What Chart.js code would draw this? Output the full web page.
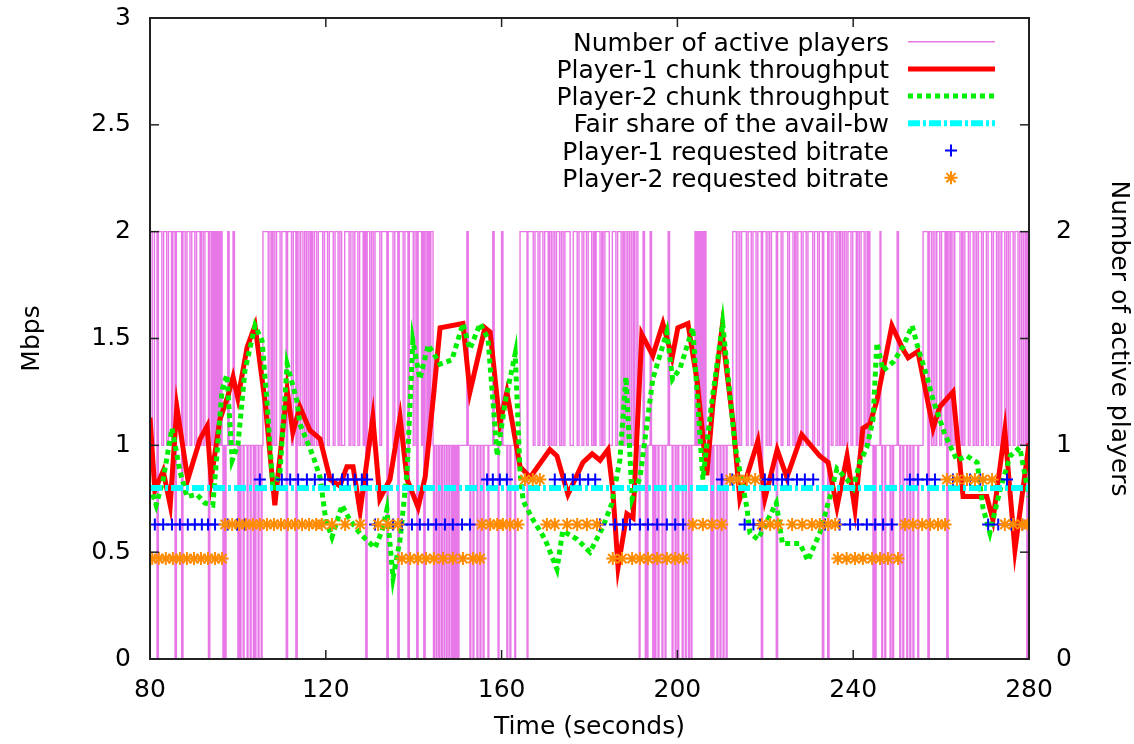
<!DOCTYPE html>
<html>
<head>
<meta charset="utf-8">
<title>Active players and throughput</title>
<script src="https://cdn.jsdelivr.net/npm/chart.js"></script>
<style>
  body { margin: 0; background: #fff; }
  canvas { display: block; }
</style>
</head>
<body>
<canvas id="chart" width="1134" height="744"></canvas>
<script>
// ---- data ----
// time in seconds, throughput / bitrate in Mbps

// number of active players: base level per stretch of time ...
const activeBase = [
  [80, 2], [96.4, 1], [105.7, 2], [144.4, 1], [164.2, 2],
  [191.0, 1], [212.6, 2], [243.8, 1], [255.9, 2]
];
// ... and the short excursions away from it: [from, to, players]
const activeDips = [
  [80.5, 81.0, 1], [81.6, 81.9, 0], [82.7, 83.1, 1], [83.8, 84.2, 1], [84.9, 85.2, 1], [85.7, 86.0, 0],
  [87.2, 87.5, 0], [88.0, 88.4, 1], [89.1, 89.5, 1], [90.2, 90.6, 1], [91.4, 91.7, 1], [92.1, 92.5, 1],
  [93.3, 93.6, 0], [94.0, 94.2, 1], [94.4, 94.6, 1], [94.8, 95.0, 1], [95.2, 95.4, 1], [95.6, 95.8, 1],
  [95.9, 96.1, 1],
  [96.6, 96.8, 0], [97.1, 97.3, 0], [97.7, 98.0, 2], [98.9, 99.2, 2], [100.0, 100.2, 0], [100.5, 100.7, 0],
  [101.2, 101.4, 0], [102.1, 102.3, 0], [102.8, 103.0, 0], [103.5, 103.6, 0], [103.9, 104.1, 0],
  [104.6, 104.8, 0], [105.3, 105.5, 0],
  [106.9, 107.3, 1], [107.7, 108.0, 1], [108.4, 108.8, 1], [109.6, 110.0, 1], [111.0, 111.3, 0],
  [112.2, 112.6, 1], [113.2, 113.5, 0], [113.9, 114.3, 1], [114.8, 115.2, 1], [115.6, 116.0, 1],
  [116.4, 116.7, 1], [117.0, 117.4, 1], [117.9, 118.3, 1], [119.3, 119.7, 1], [120.4, 120.8, 1],
  [121.7, 122.1, 1], [122.8, 123.2, 1], [123.6, 124.3, 1], [125.3, 125.7, 1], [126.2, 126.6, 1],
  [127.3, 127.7, 1], [128.5, 128.8, 1], [129.1, 129.4, 0], [130.0, 130.4, 1], [130.8, 131.2, 1],
  [132.3, 132.7, 1], [133.9, 134.2, 0], [135.3, 135.7, 1], [136.4, 136.7, 0], [137.6, 138.0, 1],
  [138.7, 139.0, 0], [139.9, 140.3, 1], [140.7, 141.0, 0], [141.8, 142.0, 1], [142.3, 142.6, 0],
  [143.0, 143.3, 1], [143.6, 143.9, 1],
  [144.5, 144.7, 0], [145.1, 145.3, 0], [145.7, 145.9, 0], [146.3, 146.5, 0], [146.9, 147.0, 0],
  [147.4, 147.6, 0], [148.0, 148.2, 0], [148.6, 148.8, 0], [148.9, 149.1, 0], [149.2, 149.4, 0],
  [149.5, 149.7, 0], [149.8, 150.0, 0], [150.1, 150.3, 0], [152.1, 152.4, 2], [152.8, 153.0, 0],
  [153.5, 153.7, 0], [154.4, 154.6, 0], [155.1, 155.3, 0], [155.8, 156.0, 0], [156.9, 157.1, 0],
  [158.0, 158.3, 2], [159.2, 159.4, 0], [160.0, 160.3, 2], [161.2, 161.4, 0], [161.9, 162.1, 0],
  [163.0, 163.2, 0],
  [165.8, 166.0, 0], [167.2, 167.6, 1], [168.3, 168.7, 1], [169.4, 169.8, 1], [170.6, 170.9, 1],
  [171.3, 171.7, 1], [172.1, 172.5, 1], [173.2, 173.6, 1], [174.0, 174.4, 1], [175.6, 176.3, 1],
  [177.2, 177.6, 1], [178.3, 178.7, 1], [179.3, 179.7, 1], [180.5, 180.9, 1], [181.2, 181.5, 1],
  [182.4, 182.8, 1], [183.1, 183.5, 1], [184.5, 185.2, 1], [186.0, 186.4, 1], [187.2, 187.6, 1],
  [187.9, 188.3, 1], [188.7, 189.1, 1], [189.5, 189.9, 1], [190.2, 190.6, 1],
  [191.3, 191.5, 0], [192.2, 192.5, 2], [192.7, 192.9, 0], [193.1, 193.3, 0], [193.8, 194.1, 2],
  [194.4, 194.6, 0], [194.9, 195.1, 0], [195.6, 195.8, 0], [196.5, 196.7, 0], [197.2, 197.4, 0],
  [197.9, 198.2, 2], [198.8, 199.0, 0], [199.5, 199.7, 0], [200.1, 200.3, 0], [201.1, 201.3, 0],
  [201.8, 202.0, 0], [202.5, 202.7, 0], [203.1, 203.3, 0], [204.0, 204.2, 2], [204.4, 204.6, 2],
  [204.8, 205.0, 2], [205.3, 205.5, 2], [205.7, 205.9, 2], [206.2, 206.5, 2], [207.6, 207.8, 0],
  [208.1, 208.3, 0], [209.0, 209.2, 0], [209.7, 209.9, 0], [210.4, 210.6, 0], [211.1, 211.3, 0],
  [213.4, 213.8, 1], [214.2, 214.6, 1], [215.7, 216.1, 1], [216.8, 217.2, 1], [217.9, 218.3, 1],
  [219.1, 219.4, 0], [220.2, 220.6, 1], [221.0, 221.4, 1], [222.5, 222.8, 0], [223.6, 224.0, 1],
  [225.1, 225.5, 1], [226.3, 226.7, 1], [227.0, 227.4, 1], [228.2, 228.6, 1], [229.3, 229.7, 1],
  [230.8, 231.2, 1], [231.9, 232.3, 1], [233.0, 233.3, 0], [234.2, 234.5, 0], [235.0, 235.4, 1],
  [236.1, 236.5, 1], [236.9, 237.2, 1], [237.6, 238.0, 1], [238.4, 238.8, 1], [239.5, 239.9, 1],
  [240.7, 241.0, 1], [241.4, 241.8, 1], [242.5, 242.9, 1], [243.3, 243.6, 1],
  [244.5, 244.7, 0], [245.0, 245.2, 0], [246.1, 246.3, 2], [246.5, 246.7, 0], [247.2, 247.4, 0],
  [248.4, 248.6, 0], [249.0, 249.2, 0], [250.0, 250.3, 2], [250.6, 250.8, 0], [251.3, 251.5, 0],
  [252.2, 252.4, 0], [252.9, 253.1, 0], [253.6, 253.8, 0], [254.7, 254.9, 0],
  [257.0, 257.3, 0], [257.8, 258.2, 1], [258.6, 259.0, 1], [259.7, 260.1, 1], [260.9, 261.1, 1],
  [261.3, 261.6, 0], [262.0, 262.3, 1], [262.7, 263.1, 1], [264.3, 264.7, 1], [265.0, 265.4, 1],
  [266.2, 266.6, 1], [267.3, 267.7, 1], [268.1, 268.5, 1], [269.2, 269.6, 1], [270.3, 270.7, 1],
  [271.5, 271.9, 1], [272.6, 273.0, 1], [273.4, 273.8, 1], [274.5, 274.9, 1], [275.3, 275.7, 1],
  [276.4, 276.8, 1], [277.5, 277.9, 1], [278.3, 278.7, 1], [279.1, 279.3, 1], [279.5, 279.7, 0]
];

const p1Throughput = [
  [80.0, 1.13], [81.1, 0.79], [83.0, 0.88], [84.6, 0.72], [86.1, 1.18], [88.6, 0.84], [91.4, 1.03],
  [93.0, 1.09], [93.9, 0.84], [95.9, 1.12], [97.7, 1.23], [98.9, 1.32], [100.0, 1.22], [102.1, 1.46],
  [103.9, 1.56], [106.2, 1.20], [108.4, 0.72], [111.2, 1.26], [112.5, 1.06], [114.1, 1.18], [116.4, 1.07],
  [118.7, 1.03], [121.0, 0.84], [123.2, 0.81], [124.8, 0.90], [126.2, 0.90], [127.8, 0.69], [130.7, 1.13],
  [132.3, 0.75], [134.6, 0.84], [136.9, 1.13], [138.5, 0.84], [141.0, 0.71], [142.6, 0.85], [144.4, 1.21],
  [146.0, 1.55], [151.2, 1.57], [152.8, 1.25], [156.2, 1.55], [157.4, 1.53], [159.6, 1.10], [161.2, 1.25],
  [164.2, 0.90], [166.5, 0.85], [171.0, 0.98], [172.6, 0.95], [175.1, 0.77], [178.5, 0.92], [180.6, 0.96],
  [182.4, 0.93], [184.2, 0.98], [185.3, 0.79], [186.5, 0.43], [188.5, 0.68], [189.9, 0.66], [191.9, 1.52],
  [194.4, 1.42], [196.7, 1.57], [198.8, 1.41], [200.1, 1.55], [202.4, 1.57], [204.5, 1.30], [206.7, 0.86],
  [208.1, 1.20], [210.1, 1.54], [212.7, 1.10], [214.2, 0.75], [218.3, 1.02], [219.9, 0.75], [222.7, 0.98],
  [224.9, 0.85], [228.3, 1.05], [232.4, 0.95], [234.3, 0.92], [236.3, 0.71], [238.6, 0.95], [240.4, 0.70],
  [242.2, 1.08], [243.8, 1.10], [245.4, 1.21], [248.8, 1.56], [251.3, 1.45], [252.5, 1.41], [254.7, 1.44],
  [257.5, 1.15], [258.2, 1.08], [259.7, 1.18], [262.7, 1.25], [265.0, 0.76], [270.4, 0.76], [271.8, 0.65],
  [274.5, 1.07], [276.8, 0.51], [280.0, 1.01]
];

const p2Throughput = [
  [80.0, 0.81], [81.4, 0.72], [83.0, 0.84], [85.0, 1.08], [86.8, 0.88], [88.4, 0.76], [90.7, 0.77],
  [92.5, 0.73], [94.3, 0.72], [96.4, 1.26], [97.5, 1.33], [98.7, 0.93], [100.0, 1.00], [101.6, 1.35],
  [103.9, 1.56], [105.5, 1.49], [106.6, 1.21], [108.0, 0.79], [109.6, 0.88], [111.2, 1.38], [113.4, 1.21],
  [114.1, 1.10], [117.1, 0.95], [118.7, 0.85], [120.0, 0.65], [121.4, 0.57], [123.7, 0.72], [125.5, 0.65],
  [127.3, 0.60], [129.1, 0.56], [131.2, 0.52], [132.8, 0.60], [133.9, 0.70], [135.3, 0.38], [136.9, 0.56],
  [138.5, 0.88], [139.8, 1.49], [141.4, 1.31], [143.3, 1.47], [146.0, 1.38], [148.7, 1.40], [151.2, 1.57],
  [152.8, 1.45], [155.1, 1.57], [156.9, 1.50], [159.0, 0.95], [160.8, 1.20], [163.1, 1.43], [164.2, 0.87],
  [164.9, 0.74], [167.2, 0.65], [169.9, 0.56], [172.6, 0.42], [173.9, 0.60], [177.2, 0.56], [180.1, 0.50],
  [183.1, 0.62], [185.1, 0.73], [186.9, 0.93], [188.3, 1.32], [189.7, 0.75], [191.5, 0.85], [194.4, 1.31],
  [197.6, 1.53], [198.9, 1.31], [200.6, 1.36], [203.5, 1.55], [205.8, 0.84], [207.8, 1.20], [210.3, 1.57],
  [213.1, 1.00], [215.8, 0.71], [216.5, 0.59], [218.3, 0.56], [222.5, 0.73], [223.9, 0.54], [227.9, 0.54],
  [229.7, 0.46], [232.4, 0.59], [234.7, 0.76], [236.3, 0.89], [238.6, 0.84], [240.0, 0.80], [241.5, 0.92],
  [243.1, 0.99], [244.5, 1.12], [245.4, 1.48], [246.8, 1.35], [249.1, 1.39], [251.3, 1.46], [253.4, 1.56],
  [254.7, 1.46], [256.8, 1.32], [258.2, 1.21], [260.9, 1.05], [263.6, 0.93], [265.9, 0.95], [268.2, 0.92],
  [269.5, 0.71], [271.1, 0.59], [273.4, 0.79], [275.7, 0.95], [277.9, 0.99], [280.0, 0.76]
];

const fairShare = [[80, 0.8], [280, 0.8]];

const p1Requested = [
  [81.1, 0.63], [83.0, 0.63], [85.0, 0.63], [86.8, 0.63], [88.6, 0.63], [90.2, 0.63], [91.8, 0.63],
  [93.2, 0.63], [94.8, 0.63], [97.7, 0.63], [99.8, 0.63], [101.6, 0.63],
  [105.0, 0.84], [110.0, 0.84], [111.9, 0.84], [113.7, 0.84], [115.7, 0.84], [117.5, 0.84], [119.8, 0.84],
  [121.6, 0.84], [123.7, 0.84], [125.0, 0.84], [126.6, 0.84], [128.2, 0.84], [129.4, 0.84],
  [131.2, 0.63], [135.3, 0.63], [137.3, 0.63], [139.6, 0.63], [141.4, 0.63], [143.3, 0.63], [145.1, 0.63],
  [147.1, 0.63], [148.9, 0.63], [151.0, 0.63], [152.8, 0.63],
  [156.7, 0.84], [158.0, 0.84], [159.6, 0.84], [161.2, 0.84], [172.1, 0.84], [174.4, 0.84], [176.2, 0.84],
  [177.8, 0.84], [179.7, 0.84], [181.3, 0.84],
  [182.4, 0.63], [185.8, 0.63], [187.6, 0.63], [189.2, 0.63], [191.5, 0.63], [193.3, 0.63], [195.4, 0.63],
  [197.6, 0.63], [199.5, 0.63], [201.3, 0.63],
  [210.1, 0.84], [212.5, 0.84], [215.3, 0.63], [217.3, 0.63], [218.8, 0.63],
  [219.9, 0.84], [221.8, 0.84], [223.8, 0.84], [225.2, 0.84], [227.2, 0.84], [229.0, 0.84], [230.9, 0.84],
  [233.6, 0.63], [236.9, 0.63], [239.3, 0.63], [241.1, 0.63], [243.1, 0.63], [245.0, 0.63], [246.8, 0.63],
  [248.8, 0.63],
  [252.9, 0.84], [254.7, 0.84], [256.8, 0.84], [258.6, 0.84], [262.7, 0.84], [266.6, 0.84], [268.9, 0.84],
  [275.0, 0.84],
  [270.7, 0.63], [273.0, 0.63], [276.0, 0.63], [278.5, 0.63]
];

const p2Requested = [
  [80.5, 0.47], [82.0, 0.47], [83.6, 0.47], [85.2, 0.47], [86.8, 0.47], [88.4, 0.47], [90.0, 0.47],
  [91.6, 0.47], [93.2, 0.47], [94.8, 0.47], [96.4, 0.47],
  [97.1, 0.63], [98.7, 0.63], [100.3, 0.63], [101.8, 0.63], [103.4, 0.63], [105.0, 0.63], [106.6, 0.63],
  [108.2, 0.63], [109.8, 0.63], [111.4, 0.63], [113.0, 0.63], [114.6, 0.63], [116.2, 0.63], [117.8, 0.63],
  [119.1, 0.63], [121.4, 0.63], [124.4, 0.63], [127.8, 0.63], [131.9, 0.63], [134.2, 0.63], [136.4, 0.63],
  [137.3, 0.47], [139.2, 0.47], [141.0, 0.47], [142.8, 0.47], [144.6, 0.47], [146.7, 0.47], [148.9, 0.47],
  [151.2, 0.47], [153.5, 0.47], [155.1, 0.47],
  [155.5, 0.63], [157.4, 0.63], [159.0, 0.63], [160.3, 0.63], [161.9, 0.63], [163.7, 0.63],
  [165.3, 0.84], [167.1, 0.84], [168.7, 0.84],
  [170.3, 0.63], [172.1, 0.63], [174.9, 0.63], [177.2, 0.63], [179.4, 0.63], [181.7, 0.63],
  [185.3, 0.47], [187.4, 0.47], [189.7, 0.47], [191.5, 0.47], [193.3, 0.47], [195.4, 0.47], [197.6, 0.47],
  [199.5, 0.47], [201.3, 0.47],
  [203.5, 0.63], [205.8, 0.63], [207.9, 0.63], [210.1, 0.63],
  [212.0, 0.84], [213.7, 0.84], [215.8, 0.84], [217.7, 0.84],
  [219.2, 0.63], [221.1, 0.63], [222.9, 0.63], [226.1, 0.63], [228.4, 0.63], [230.6, 0.63], [232.4, 0.63],
  [234.3, 0.63], [235.9, 0.63],
  [236.5, 0.47], [238.5, 0.47], [240.4, 0.47], [242.2, 0.47], [244.3, 0.47], [246.1, 0.47], [247.9, 0.47],
  [250.2, 0.47],
  [251.8, 0.63], [253.6, 0.63], [255.7, 0.63], [257.5, 0.63], [259.3, 0.63], [260.9, 0.63],
  [261.3, 0.84], [263.6, 0.84], [265.9, 0.84], [267.7, 0.84], [269.5, 0.84], [271.6, 0.84],
  [274.5, 0.63], [276.4, 0.63], [278.4, 0.63], [279.8, 0.63]
];

const xTicks = [80, 120, 160, 200, 240, 280];
const legendLabels = [
  'Number of active players',
  'Player-1 chunk throughput',
  'Player-2 chunk throughput',
  'Fair share of the avail-bw',
  'Player-1 requested bitrate',
  'Player-2 requested bitrate'
];

// ---- helpers ----
const toXY = (pairs) => pairs.map(([x, y]) => ({ x, y }));

// step series for the active players: base level with its excursions
function activeSteps() {
  const steps = [];
  activeBase.forEach(([t0, level], i) => {
    const t1 = i + 1 < activeBase.length ? activeBase[i + 1][0] : xTicks[xTicks.length - 1];
    steps.push({ x: t0, y: level });
    activeDips
      .filter(([a]) => a >= t0 && a < t1)
      .forEach(([a, b, n]) => {
        steps.push({ x: a, y: n }, { x: b, y: level });
      });
  });
  steps.push({ x: xTicks[xTicks.length - 1], y: activeBase[activeBase.length - 1][1] });
  return steps;
}

const FONT = '"DejaVu Sans", sans-serif';
const FONT_SIZE = 25;

// frame with gnuplot style inward ticks
const frameTicks = {
  id: 'frameTicks',
  afterDatasetsDraw(chart) {
    const { ctx, chartArea: a, scales } = chart;
    const len = 9;
    ctx.save();
    ctx.strokeStyle = '#222';
    ctx.lineWidth = 1.5;
    const seg = (x1, y1, x2, y2) => {
      ctx.beginPath(); ctx.moveTo(x1, y1); ctx.lineTo(x2, y2); ctx.stroke();
    };
    scales.y.ticks.forEach((t) => {
      const py = scales.y.getPixelForValue(t.value);
      seg(a.left, py, a.left + len, py);
      seg(a.right, py, a.right - len, py);
    });
    scales.x.ticks.forEach((t) => {
      const px = scales.x.getPixelForValue(t.value);
      seg(px, a.bottom, px, a.bottom - len);
      seg(px, a.top, px, a.top + len);
    });
    ctx.lineWidth = 2;
    ctx.strokeRect(a.left, a.top, a.right - a.left, a.bottom - a.top);
    ctx.restore();
  }
};

// key in the top right corner: text right aligned, sample to its right
const keyBox = {
  id: 'keyBox',
  afterDraw(chart) {
    const { ctx } = chart;
    const textRight = 889;
    const sampleL = 908;
    const sampleR = 995;
    const firstRow = 41.7;
    const rowGap = 27.2;
    ctx.save();
    ctx.font = FONT_SIZE + 'px ' + FONT;
    ctx.fillStyle = '#000';
    ctx.textAlign = 'right';
    ctx.textBaseline = 'alphabetic';
    chart.data.datasets.forEach((ds, i) => {
      const y = firstRow + i * rowGap;
      ctx.fillText(legendLabels[i], textRight, y + 9);
      ctx.strokeStyle = ds.borderColor;
      ctx.lineWidth = ds.borderWidth;
      if (ds.showLine !== false) {
        ctx.setLineDash(ds.borderDash || []);
        ctx.beginPath(); ctx.moveTo(sampleL, y); ctx.lineTo(sampleR, y); ctx.stroke();
        ctx.setLineDash([]);
      } else {
        const cx = 951;
        const r = ds.pointRadius;
        ctx.lineWidth = ds.pointBorderWidth;
        ctx.beginPath();
        ctx.moveTo(cx - r, y); ctx.lineTo(cx + r, y);
        ctx.moveTo(cx, y - r); ctx.lineTo(cx, y + r);
        if (ds.pointStyle === 'star') {
          const d = r * Math.SQRT1_2;
          ctx.moveTo(cx - d, y - d); ctx.lineTo(cx + d, y + d);
          ctx.moveTo(cx - d, y + d); ctx.lineTo(cx + d, y - d);
        }
        ctx.stroke();
      }
    });
    ctx.restore();
  }
};

const tickFont = { family: FONT, size: FONT_SIZE };
// the axes sizes are fixed so the plot box sits where it does in the picture
const fixSize = (w, h) => (s) => {
  if (w) s.width = w;
  if (h) s.height = h;
  s.paddingTop = 0;
  s.paddingBottom = 0;
  s.paddingLeft = 0;
  s.paddingRight = 0;
};

new Chart(document.getElementById('chart'), {
  type: 'scatter',
  data: {
    datasets: [
      {
        type: 'line', data: activeSteps(), yAxisID: 'y2', stepped: true,
        borderColor: '#e878e8', borderWidth: 1.4, pointRadius: 0, order: 6
      },
      {
        type: 'line', data: toXY(p1Throughput), yAxisID: 'y',
        borderColor: '#ff0000', borderWidth: 5, pointRadius: 0, tension: 0, order: 5
      },
      {
        type: 'line', data: toXY(p2Throughput), yAxisID: 'y',
        borderColor: '#00ee00', borderWidth: 5, borderDash: [5, 4], pointRadius: 0, tension: 0, order: 4
      },
      {
        type: 'line', data: toXY(fairShare), yAxisID: 'y',
        borderColor: '#00ffff', borderWidth: 6, borderDash: [12, 3, 3, 3], pointRadius: 0, order: 3
      },
      {
        data: toXY(p1Requested), yAxisID: 'y', showLine: false,
        pointStyle: 'cross', pointRadius: 6, pointBorderWidth: 2,
        borderColor: '#0000ff', pointBorderColor: '#0000ff', order: 2
      },
      {
        data: toXY(p2Requested), yAxisID: 'y', showLine: false,
        pointStyle: 'star', pointRadius: 6.5, pointBorderWidth: 2,
        borderColor: '#ff8c00', pointBorderColor: '#ff8c00', order: 1
      }
    ]
  },
  options: {
    responsive: false,
    animation: false,
    devicePixelRatio: 1,
    layout: { padding: { top: 18, left: 0, right: 0, bottom: 0 } },
    plugins: { legend: { display: false }, tooltip: { enabled: false } },
    scales: {
      x: {
        type: 'linear', min: 80, max: 280,
        afterBuildTicks: (s) => { s.ticks = xTicks.map((v) => ({ value: v })); },
        ticks: { font: tickFont, color: '#000', padding: 16, callback: (v) => String(v), maxRotation: 0 },
        grid: { display: false, drawTicks: false },
        border: { display: false },
        title: { display: true, text: 'Time (seconds)', font: tickFont, color: '#000', padding: { top: 0, bottom: 2 } },
        afterFit: fixSize(0, 85)
      },
      y: {
        position: 'left', min: 0, max: 3,
        ticks: { stepSize: 0.5, font: tickFont, color: '#000', padding: 19, callback: (v) => String(v) },
        grid: { display: false, drawTicks: false },
        border: { display: false },
        title: { display: true, text: 'Mbps', font: tickFont, color: '#000', padding: { top: 17, bottom: 0 } },
        afterFit: fixSize(150, 0)
      },
      y2: {
        position: 'right', min: 0, max: 3,
        ticks: { stepSize: 1, font: tickFont, color: '#000', padding: 27, callback: (v) => (v < 3 ? String(v) : '') },
        grid: { display: false, drawTicks: false },
        border: { display: false },
        title: { display: true, text: 'Number of active players', font: tickFont, color: '#000', padding: { top: 1, bottom: 0 } },
        afterFit: fixSize(105, 0)
      }
    }
  },
  plugins: [frameTicks, keyBox]
});
</script>
</body>
</html>
